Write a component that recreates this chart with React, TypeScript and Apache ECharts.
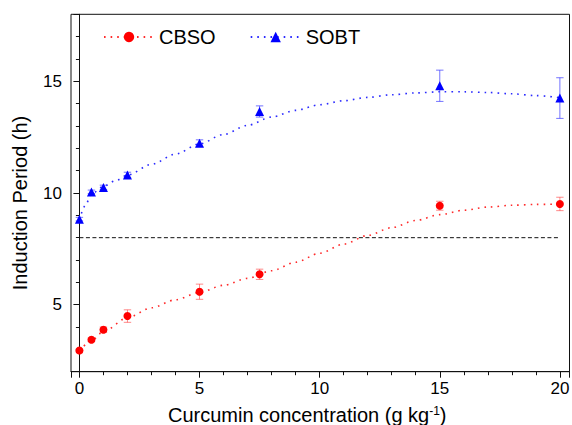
import React, { useEffect, useRef } from "react";
import * as echarts from "echarts";

// Measured data points
const CONC = [0, 0.5, 1, 2, 5, 7.5, 15, 20];
const CBSO_Y = [2.95, 3.43, 3.88, 4.49, 5.58, 6.36, 9.43, 9.51];
const CBSO_ERR = [0.05, 0.08, 0.12, 0.28, 0.34, 0.23, 0.2, 0.3];
const SOBT_Y = [8.83, 10.05, 10.25, 10.81, 12.23, 13.65, 14.8, 14.25];
const SOBT_ERR = [0.08, 0.08, 0.1, 0.12, 0.15, 0.25, 0.7, 0.91];

// Fitted (B-spline) curves
const CBSO_FIT_X = [0, 0.5, 1, 2, 3, 4, 5, 6, 7, 8, 9, 10, 11, 12, 13, 14, 15, 16, 17, 18, 19, 20];
const CBSO_FIT_Y = [2.93, 3.38, 3.8, 4.42, 4.86, 5.22, 5.55, 5.87, 6.18, 6.52, 6.9, 7.3, 7.71, 8.1, 8.45, 8.77, 9.03, 9.23, 9.37, 9.45, 9.49, 9.5];
const SOBT_FIT_X = [0, 0.25, 0.5, 1, 1.5, 2, 3, 4, 5, 6, 7, 8, 9, 10, 11, 12, 13, 14, 15, 16, 17, 18, 19, 20];
const SOBT_FIT_Y = [8.8, 9.45, 9.95, 10.3, 10.55, 10.8, 11.28, 11.74, 12.2, 12.62, 13.03, 13.4, 13.7, 13.95, 14.13, 14.28, 14.4, 14.48, 14.53, 14.53, 14.5, 14.44, 14.36, 14.27];

// Reference line
const ANP_X = [0, 20];
const ANP_VALUE = 8;
const ANP_LABEL = "ANP resolution 45-2014";
const ANP_LABEL_X = 1.8;

const SERIES_NAMES = ["CBSO", "SOBT"];
const X_NAME = "Curcumin concentration (g kg";
const Y_NAME = "Induction Period (h)";

const FONT = "'Liberation Sans', Arial, Helvetica, sans-serif";

function errorBarSeries(name: string, ys: number[], errs: number[], color: string) {
  return {
    type: "custom",
    name,
    z: 1,
    silent: true,
    data: CONC.map((x, i) => [x, ys[i], errs[i]]),
    renderItem: (params: any, api: any) => {
      const x = api.value(0);
      const y = api.value(1);
      const e = api.value(2);
      const top = api.coord([x, y + e]);
      const bot = api.coord([x, y - e]);
      const w = 3.7;
      const style = { stroke: color, lineWidth: 1 };
      return {
        type: "group",
        children: [
          { type: "line", shape: { x1: top[0], y1: top[1], x2: bot[0], y2: bot[1] }, style },
          { type: "line", shape: { x1: top[0] - w, y1: top[1], x2: top[0] + w, y2: top[1] }, style },
          { type: "line", shape: { x1: bot[0] - w, y1: bot[1], x2: bot[0] + w, y2: bot[1] }, style },
        ],
      };
    },
  };
}

export default function App() {
  const ref = useRef<HTMLDivElement>(null);
  useEffect(() => {
    if (!ref.current) return;
    const chart = echarts.init(ref.current, null, { renderer: "svg" });
    const red = "#ff0000";
    const blue = "#0000ff";
    const option: any = {
      animation: false,
      textStyle: { fontFamily: FONT, color: "#000" },
      grid: {
        left: 71,
        right: 2.5,
        top: 14.3,
        bottom: 53.3,
        show: true,
        borderColor: "#111",
        borderWidth: 1,
        containLabel: false,
        outerBoundsMode: "none",
      },
      graphic: [
        {
          type: "text",
          x: 20,
          y: 203,
          rotation: Math.PI / 2,
          style: {
            text: Y_NAME,
            align: "center",
            verticalAlign: "middle",
            fontSize: 20,
            fontFamily: FONT,
            fill: "#000",
          },
        },
      ],
      legend: {
        data: SERIES_NAMES,
        left: 103,
        top: 27,
        padding: 0,
        itemWidth: 50,
        itemHeight: 13,
        itemGap: 34,
        textStyle: { fontSize: 20, color: "#000", fontFamily: FONT },
      },
      xAxis: {
        type: "value",
        min: -0.35,
        max: 20.4,
        minInterval: 5,
        maxInterval: 5,
        splitNumber: 4,
        name: X_NAME + "{sup|-1})",
        nameLocation: "middle",
        nameGap: 33,
        nameTextStyle: {
          fontSize: 20,
          lineHeight: 20,
          color: "#000",
          fontFamily: FONT,
          padding: [0, 26, 0, 0],
          rich: { sup: { fontSize: 12, lineHeight: 20, verticalAlign: "top", padding: [0, 0, 8, 0], fontFamily: FONT } },
        },
        axisLine: { show: true, lineStyle: { color: "#111", width: 1 } },
        axisTick: { show: true, inside: false, length: 6, lineStyle: { color: "#111" } },
        minorTick: { show: true, splitNumber: 5, length: 3.5, lineStyle: { color: "#111" } },
        axisLabel: { fontSize: 17, color: "#000", margin: 8, showMinLabel: false, showMaxLabel: false, fontFamily: FONT },
        splitLine: { show: false },
      },
      yAxis: {
        type: "value",
        min: 2,
        max: 18,
        minInterval: 5,
        maxInterval: 5,
        splitNumber: 3,
        axisLine: { show: true, lineStyle: { color: "#111", width: 1 } },
        axisTick: { show: true, inside: false, length: 6, lineStyle: { color: "#111" } },
        minorTick: { show: true, splitNumber: 5, length: 3.5, lineStyle: { color: "#111" } },
        axisLabel: { fontSize: 17, color: "#000", margin: 9, showMinLabel: false, showMaxLabel: false, fontFamily: FONT },
        splitLine: { show: false },
      },
      series: [
        {
          type: "line",
          name: "CBSO",
          data: CBSO_FIT_X.map((x, i) => [x, CBSO_FIT_Y[i]]),
          symbol: "circle",
          symbolSize: 10,
          showSymbol: false,
          smooth: 0.3,
          smoothMonotone: "x",
          itemStyle: { color: red },
          lineStyle: { color: "#ff2a2a", width: 1.6, type: [1.6, 5] },
          z: 2,
          silent: true,
        },
        {
          type: "line",
          name: "SOBT",
          data: SOBT_FIT_X.map((x, i) => [x, SOBT_FIT_Y[i]]),
          symbol: "triangle",
          symbolSize: 10,
          showSymbol: false,
          smooth: 0.3,
          smoothMonotone: "x",
          itemStyle: { color: blue },
          lineStyle: { color: "#2a2aff", width: 1.6, type: [1.6, 5] },
          z: 2,
          silent: true,
        },
        errorBarSeries("CBSO", CBSO_Y, CBSO_ERR, "rgba(255,60,60,0.6)"),
        errorBarSeries("SOBT", SOBT_Y, SOBT_ERR, "rgba(70,70,255,0.75)"),
        {
          type: "scatter",
          name: "CBSO",
          data: CONC.map((x, i) => [x, CBSO_Y[i]]),
          symbol: "circle",
          symbolSize: 8,
          itemStyle: { color: red, opacity: 1 },
          z: 3,
        },
        {
          type: "scatter",
          name: "SOBT",
          data: CONC.map((x, i) => [x, SOBT_Y[i]]),
          symbol: "triangle",
          symbolSize: 9,
          itemStyle: { color: blue, opacity: 1 },
          z: 3,
        },
        {
          type: "line",
          name: "ANP",
          data: ANP_X.map((x) => [x, ANP_VALUE]),
          symbol: "none",
          lineStyle: { color: "#111", width: 1, type: [4, 2.5] },
          z: 1,
          silent: true,
        },
        {
          type: "scatter",
          name: "ANP label",
          data: [[ANP_LABEL_X, ANP_VALUE]],
          symbolSize: 0,
          itemStyle: { opacity: 0 },
          label: {
            show: true,
            position: "top",
            align: "left",
            distance: 1,
            formatter: ANP_LABEL,
            fontSize: 15,
            color: "#000",
            fontFamily: FONT,
          },
          silent: true,
          z: 4,
        },
      ],
    };
    chart.setOption(option);
    return () => chart.dispose();
  }, []);
  return <div ref={ref} style={{ width: 572, height: 425, position: "absolute", left: 0, top: 0 }} />;
}
